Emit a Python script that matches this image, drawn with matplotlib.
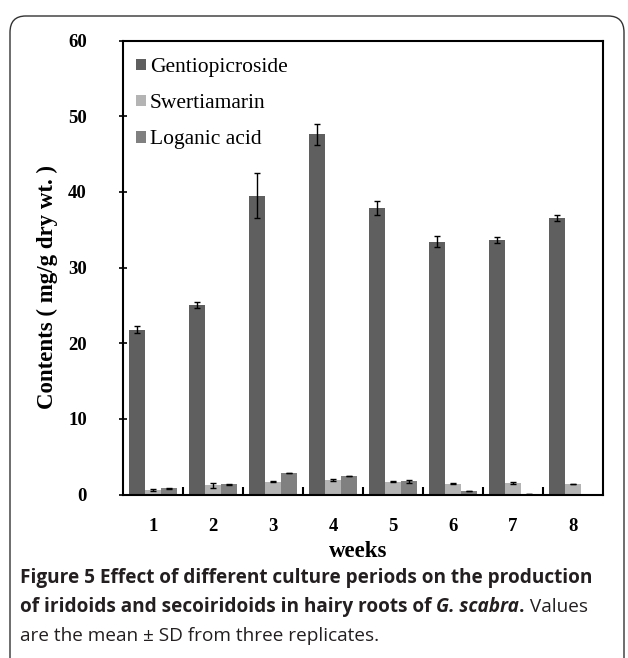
import numpy as np
import matplotlib
matplotlib.use("Agg")
import matplotlib.pyplot as plt
from matplotlib.patches import FancyBboxPatch, Patch

weeks = ["1", "2", "3", "4", "5", "6", "7", "8"]
series_names = ["Gentiopicroside", "Swertiamarin", "Loganic acid"]
gentio = [21.8, 25.1, 39.5, 47.6, 37.9, 33.4, 33.6, 36.5]
gentio_sd = [0.5, 0.4, 3.0, 1.4, 0.9, 0.7, 0.4, 0.4]
swert = [0.6, 1.2, 1.7, 1.95, 1.7, 1.45, 1.5, 1.45]
swert_sd = [0.1, 0.3, 0.1, 0.1, 0.1, 0.1, 0.15, 0.0]
logan = [0.8, 1.35, 2.9, 2.5, 1.75, 0.5, 0.05, 0.0]
logan_sd = [0.1, 0.1, 0.0, 0.0, 0.2, 0.0, 0.0, 0.0]
colors = ["#5f5f5f", "#b4b4b4", "#808080"]

serif = ["Liberation Serif", "DejaVu Serif"]
W, H = 628, 658
fig = plt.figure(figsize=(W / 100, H / 100), dpi=100)

# rounded frame round the figure
frame = FancyBboxPatch((10 / W, -20 / H), 614 / W, 662 / H,
                       boxstyle="round,pad=0,rounding_size=0.025",
                       transform=fig.transFigure, fill=False,
                       edgecolor="#333333", linewidth=1.0)
fig.patches.append(frame)

ax = fig.add_axes([123 / W, 1 - 494.5 / H, 480 / W, 454 / H])
x = np.arange(1, len(weeks) + 1)
bw = 0.268
err_kw = dict(ecolor="black", elinewidth=1.0, capthick=1.0)
ax.bar(x - bw, gentio, bw, yerr=gentio_sd, color=colors[0], capsize=2.5, error_kw=err_kw)
ax.bar(x, swert, bw, yerr=swert_sd, color=colors[1], capsize=2.5, error_kw=err_kw)
ax.bar(x + bw, logan, bw, yerr=logan_sd, color=colors[2], capsize=2.5, error_kw=err_kw)

ax.set_xlim(0.5, len(weeks) + 0.5)
ax.set_ylim(0, 60)
ax.set_yticks(range(0, 61, 10))
ax.set_xticks(x)
ax.set_xticklabels(weeks)
ax.set_xticks(np.arange(1.5, len(weeks), 1), minor=True)
ax.tick_params(axis="x", which="major", length=0, pad=17)
ax.tick_params(axis="x", which="minor", direction="in", length=6, width=1.5)
ax.tick_params(axis="y", direction="inout", length=6, width=1.2, pad=23)
for lab in ax.get_xticklabels() + ax.get_yticklabels():
    lab.set_fontfamily(serif)
    lab.set_fontweight("bold")
    lab.set_fontsize(13.5)
for s in ax.spines.values():
    s.set_linewidth(1.5)

ax.set_ylabel("Contents ( mg/g dry wt. )", fontfamily=serif, fontweight="bold",
              fontsize=16.5)
ax.yaxis.set_label_coords(-0.135, 0.457)
ax.set_xlabel("weeks", fontfamily=serif, fontweight="bold", fontsize=16.5)
ax.xaxis.set_label_coords(0.49, -0.103)

handles = [Patch(facecolor=c, edgecolor="none") for c in colors]
ax.legend(handles, series_names, loc="upper left", bbox_to_anchor=(0.0, 0.99),
          frameon=False, prop={"family": serif, "size": 15.5},
          handlelength=0.45, handleheight=0.45, handletextpad=0.2,
          labelspacing=0.8, borderaxespad=0.3, borderpad=0.3)

# caption with mixed styles, sized so the first line spans like the original
cap_font = ["Open Sans", "DejaVu Sans"]
renderer = fig.canvas.get_renderer()
probe = fig.text(0, 0, "Figure 5 Effect of different culture periods on the production",
                 fontfamily=cap_font, fontweight="bold", fontsize=10)
cap_size = 10 * 574 / probe.get_window_extent(renderer=renderer).width
probe.remove()

lines = [
    [("Figure 5 Effect of different culture periods on the production", "bold", "normal")],
    [("of iridoids and secoiridoids in hairy roots of ", "bold", "normal"),
     ("G. scabra", "bold", "italic"),
     (".", "bold", "normal"),
     (" Values", "normal", "normal")],
    [("are the mean \u00b1 SD from three replicates.", "normal", "normal")],
]
line_y = [578, 607, 636]
for parts, yy in zip(lines, line_y):
    xp = 20
    for txt, wt, st in parts:
        t = fig.text(xp / W, 1 - yy / H, txt, fontfamily=cap_font, fontweight=wt,
                     fontstyle=st, fontsize=cap_size, color="#231f20", va="center", ha="left")
        bb = t.get_window_extent(renderer=renderer)
        xp += bb.width

fig.savefig("out.png", dpi=100)
